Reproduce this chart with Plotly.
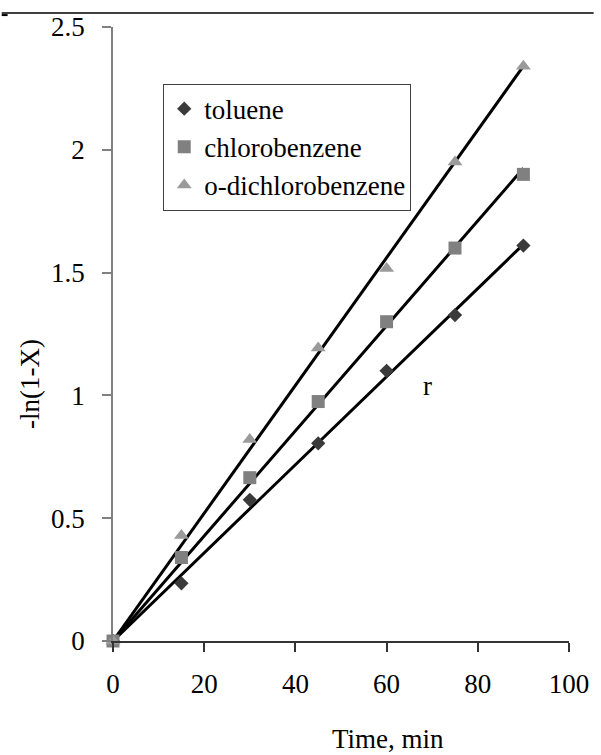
import numpy as np
import plotly.graph_objects as go

# Reaction time (min) and first-order conversion term -ln(1-X) per solvent
time_min = [0, 15, 30, 45, 60, 75, 90]
toluene = [0, 0.235, 0.575, 0.805, 1.10, 1.327, 1.61]
chlorobenzene = [0, 0.34, 0.665, 0.975, 1.30, 1.60, 1.90]
o_dichlorobenzene = [0, 0.43, 0.82, 1.193, 1.517, 1.95, 2.34]

x_ticks = [0, 20, 40, 60, 80, 100]
y_ticks = [0, 0.5, 1, 1.5, 2, 2.5]

W, H = 601, 755
M_L, M_R, M_T, M_B = 113, 25, 23, 114
FONT = "Liberation Serif"
FS = 27

series = [
    ("toluene", toluene, "diamond", 11, "#3a3a3a"),
    ("chlorobenzene", chlorobenzene, "square", 13, "#808080"),
    ("o-dichlorobenzene", o_dichlorobenzene, "triangle-up", 13, "#9a9a9a"),
]

fig = go.Figure()
t = np.array(time_min, dtype=float)

# Straight-line fits through the origin (first-order kinetics)
for name, vals, sym, size, color in series:
    y = np.array(vals, dtype=float)
    k = float(np.dot(t, y) / np.dot(t, t))
    t_fit = np.array([t.min(), t.max()])
    fig.add_trace(go.Scatter(
        x=t_fit, y=k * t_fit, mode="lines",
        line=dict(color="#000000", width=3),
        showlegend=False, hoverinfo="skip", cliponaxis=False,
    ))

for name, vals, sym, size, color in series:
    fig.add_trace(go.Scatter(
        x=time_min, y=vals, mode="markers", name=name,
        marker=dict(symbol=sym, size=size, color=color),
        legendgroup=name, cliponaxis=False,
    ))

plot_w = W - M_L - M_R
plot_h = H - M_T - M_B


def px_to_paper_x(px):
    return (px - M_L) / plot_w


def px_to_paper_y(py):
    return (H - M_B - py) / plot_h


fig.update_layout(
    width=W, height=H,
    margin=dict(l=M_L, r=M_R, t=M_T, b=M_B),
    paper_bgcolor="white", plot_bgcolor="white",
    font=dict(family=FONT, size=FS, color="#000000"),
    showlegend=True,
    legend=dict(
        x=px_to_paper_x(164), y=px_to_paper_y(80),
        xanchor="left", yanchor="top",
        bgcolor="white", bordercolor="#404040", borderwidth=1,
        font=dict(family=FONT, size=FS, color="#000000"),
        traceorder="grouped", tracegroupgap=0,
        itemwidth=30,
    ),
    xaxis=dict(
        range=[0, 100], tickvals=x_ticks, ticktext=[str(v) for v in x_ticks],
        showgrid=False, zeroline=False,
        showline=True, linecolor="#333333", linewidth=1.5,
        ticks="outside", ticklen=9, tickwidth=1.5, tickcolor="#333333",
        ticklabelstandoff=9,
        tickfont=dict(family=FONT, size=FS, color="#000000"),
    ),
    yaxis=dict(
        range=[0, 2.5], tickvals=y_ticks, ticktext=["0", "0.5", "1", "1.5", "2", "2.5"],
        showgrid=False, zeroline=False,
        showline=True, linecolor="#808080", linewidth=1.5,
        ticks="outside", ticklen=9, tickwidth=1.5, tickcolor="#808080",
        ticklabelstandoff=12,
        tickfont=dict(family=FONT, size=FS, color="#000000"),
    ),
    annotations=[
        dict(text="Time, min", xref="paper", yref="paper",
             x=px_to_paper_x(392), y=px_to_paper_y(740),
             xanchor="center", yanchor="middle", showarrow=False,
             font=dict(family=FONT, size=FS, color="#000000")),
        dict(text="-ln(1-X)", xref="paper", yref="paper",
             x=px_to_paper_x(28), y=px_to_paper_y(382),
             xanchor="center", yanchor="middle", textangle=-90, showarrow=False,
             font=dict(family=FONT, size=FS, color="#000000")),
        dict(text="r", xref="x", yref="y", x=69, y=1.04,
             xanchor="center", yanchor="middle", showarrow=False,
             font=dict(family=FONT, size=FS, color="#000000")),
    ],
    shapes=[
        dict(type="line", xref="paper", yref="paper",
             x0=px_to_paper_x(0), x1=px_to_paper_x(W),
             y0=px_to_paper_y(9), y1=px_to_paper_y(9),
             line=dict(color="#000000", width=1.5)),
        dict(type="line", xref="paper", yref="paper",
             x0=px_to_paper_x(0), x1=px_to_paper_x(6),
             y0=px_to_paper_y(11), y1=px_to_paper_y(11),
             line=dict(color="#000000", width=2)),
    ],
)

fig.write_html("out.html")
